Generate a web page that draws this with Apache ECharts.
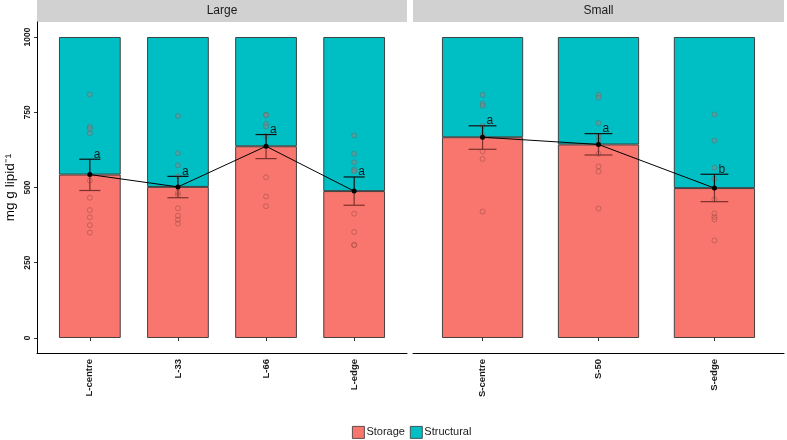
<!DOCTYPE html>
<html>
<head>
<meta charset="utf-8">
<script src="https://cdn.jsdelivr.net/npm/echarts@6/dist/echarts.min.js"></script>
<style>
  html, body { margin: 0; padding: 0; background: #fff; }
  #chart { width: 787px; height: 440px; }
</style>
</head>
<body>
<div id="chart"></div>
<script>
// categories per panel
var catsL = ['L-centre', 'L-33', 'L-66', 'L-edge'];
var catsS = ['S-centre', 'S-50', 'S-edge'];
var yTicks = [0, 250, 500, 750, 1000];

// mean storage / structural (mg g lipid-1), bars stack to 1000
var storageL = [543, 502, 637, 488];
var structuralL = [457, 498, 363, 512];
var storageS = [667, 643, 498];
var structuralS = [333, 357, 502];

// error bars (low, high) and group letters
var errLowL = [490, 466, 596, 441];
var errHighL = [594, 537, 676, 535];
var errLowS = [627, 608, 453];
var errHighS = [705, 679, 544];
var lettersL = ['a', 'a', 'a', 'a'];
var lettersS = ['a', 'a', 'b'];

// individual samples
var pointsL = [
  [809, 702, 695, 680, 523, 466, 425, 401, 375, 350],
  [738, 614, 574, 537, 483, 475, 431, 406, 393, 380],
  [742, 740, 712, 703, 671, 534, 470, 438],
  [673, 612, 584, 560, 554, 413, 352, 310, 308]
];
var pointsS = [
  [808, 779, 772, 705, 673, 620, 595, 420],
  [808, 799, 714, 670, 655, 612, 570, 553, 430],
  [743, 656, 566, 529, 460, 414, 402, 394, 324]
];

var RED = '#F8766D', TEAL = '#00BFC4';
var chart = echarts.init(document.getElementById('chart'));

// points above the storage mean sit on teal (grey fill), below on red (hollow)
function scatterData(cats, pts, means) {
  var out = [];
  cats.forEach(function (c, i) {
    pts[i].forEach(function (v) {
      var up = v > means[i];
      out.push({
        value: [c, v],
        itemStyle: up
          ? { color: 'rgba(135,135,135,0.6)', borderColor: 'rgba(95,95,95,0.6)', borderWidth: 0.8 }
          : { color: 'rgba(0,0,0,0)', borderColor: 'rgba(150,70,64,0.75)', borderWidth: 0.8 }
      });
    });
  });
  return out;
}

function errData(cats, lo, hi) {
  return cats.map(function (c, i) { return [c, lo[i], hi[i]]; });
}

function makeErrRender(means, letters) {
  return function (params, api) {
    var idx = api.value(0);
    var m = means[params.dataIndex];
    var lo = api.coord([idx, api.value(1)]);
    var hi = api.coord([idx, api.value(2)]);
    var mid = api.coord([idx, m]);
    var half = api.size([1, 0])[0] * 0.12;
    var dark = '#111', under = '#7d312c';
    return {
      type: 'group',
      children: [
        { type: 'line', shape: { x1: hi[0], y1: hi[1], x2: mid[0], y2: mid[1] }, style: { stroke: dark, lineWidth: 1.2 } },
        { type: 'line', shape: { x1: mid[0], y1: mid[1], x2: lo[0], y2: lo[1] }, style: { stroke: under, lineWidth: 1.2 } },
        { type: 'line', shape: { x1: hi[0] - half, y1: hi[1], x2: hi[0] + half, y2: hi[1] }, style: { stroke: dark, lineWidth: 1.2 } },
        { type: 'line', shape: { x1: lo[0] - half, y1: lo[1], x2: lo[0] + half, y2: lo[1] }, style: { stroke: under, lineWidth: 1.2 } },
        { type: 'text', x: hi[0] + 4, y: hi[1] + 1, style: { text: letters[params.dataIndex], fill: '#1a1a1a', font: '12px "Liberation Sans", Arial, sans-serif', align: 'left', verticalAlign: 'bottom' } }
      ]
    };
  };
}

function panelSeries(cats, storage, structural, pts, lo, hi, letters, xi, yi, stackId) {
  return [
    { name: 'Storage', type: 'bar', xAxisIndex: xi, yAxisIndex: yi, stack: stackId, barWidth: '70%',
      data: storage, itemStyle: { color: RED, borderColor: '#333', borderWidth: 0.9 }, z: 2 },
    { name: 'Structural', type: 'bar', xAxisIndex: xi, yAxisIndex: yi, stack: stackId, barWidth: '70%',
      data: structural, itemStyle: { color: TEAL, borderColor: '#333', borderWidth: 0.9 }, z: 2 },
    { type: 'scatter', xAxisIndex: xi, yAxisIndex: yi, symbol: 'circle', symbolSize: 5,
      data: scatterData(cats, pts, storage), silent: true, z: 3 },
    { type: 'line', xAxisIndex: xi, yAxisIndex: yi, data: storage, symbol: 'circle', symbolSize: 5,
      lineStyle: { color: '#000', width: 1 }, itemStyle: { color: '#000' }, z: 5 },
    { type: 'custom', xAxisIndex: xi, yAxisIndex: yi, data: errData(cats, lo, hi),
      renderItem: makeErrRender(storage, letters), z: 4 }
  ];
}

var fontFam = '"Liberation Sans", Arial, sans-serif';
var gridTop = 22, gridBottom = 87;

var catAxisLabel = { rotate: 90, fontSize: 9.5, fontWeight: 'bold', color: '#1a1a1a', margin: 6 };

var options = {
  animation: false,
  textStyle: { fontFamily: fontFam },
  grid: [
    { left: 37, right: 380, top: gridTop, bottom: gridBottom },
    { left: 45.8, right: 388.8, top: gridTop, bottom: gridBottom },
    { left: 413, right: 3, top: gridTop, bottom: gridBottom },
    { left: 424.6, right: 14.6, top: gridTop, bottom: gridBottom }
  ],
  xAxis: [
    { gridIndex: 0, type: 'value', min: 0, max: 1, axisLine: { show: true, onZero: false, lineStyle: { color: '#000', width: 1 } },
      axisTick: { show: false }, axisLabel: { show: false }, splitLine: { show: false } },
    { gridIndex: 1, type: 'category', data: catsL, axisLine: { show: false },
      axisTick: { show: true, alignWithLabel: true, length: 3, lineStyle: { color: '#333' } },
      axisLabel: catAxisLabel },
    { gridIndex: 2, type: 'value', min: 0, max: 1, axisLine: { show: true, onZero: false, lineStyle: { color: '#000', width: 1 } },
      axisTick: { show: false }, axisLabel: { show: false }, splitLine: { show: false } },
    { gridIndex: 3, type: 'category', data: catsS, axisLine: { show: false },
      axisTick: { show: true, alignWithLabel: true, length: 3, lineStyle: { color: '#333' } },
      axisLabel: catAxisLabel }
  ],
  yAxis: [
    { gridIndex: 0, type: 'value', min: -50, max: 1050,
      name: 'mg g lipid\u207B\u00B9', nameLocation: 'middle', nameGap: 20, nameRotate: 90,
      nameTextStyle: { fontSize: 13.5, color: '#000' },
      axisLine: { show: true, onZero: false, lineStyle: { color: '#000', width: 1 } },
      axisTick: { show: true, length: 3, customValues: yTicks, lineStyle: { color: '#333' } },
      axisLabel: { rotate: 90, fontSize: 8.5, fontWeight: 'bold', color: '#1a1a1a', margin: 5, customValues: yTicks,
        formatter: function (v) { return String(v); } },
      splitLine: { show: false } },
    { gridIndex: 1, type: 'value', min: -50, max: 1050, show: false },
    { gridIndex: 2, type: 'value', min: -50, max: 1050, show: false },
    { gridIndex: 3, type: 'value', min: -50, max: 1050, show: false }
  ],
  legend: {
    data: ['Storage', 'Structural'], top: 426, left: 352, icon: 'rect',
    itemWidth: 12, itemHeight: 12, itemGap: 5, padding: 0,
    itemStyle: { borderColor: '#333', borderWidth: 0.8 },
    textStyle: { fontSize: 11, color: '#1a1a1a', padding: [0, 0, 0, -3] }
  },
  graphic: [
    { type: 'rect', shape: { x: 37, y: 0, width: 370, height: 22 }, style: { fill: '#d1d1d1' }, silent: true },
    { type: 'text', x: 222, y: 11, style: { text: 'Large', fill: '#1a1a1a', font: '12px ' + fontFam, align: 'center', verticalAlign: 'middle' } },
    { type: 'rect', shape: { x: 413, y: 0, width: 371, height: 22 }, style: { fill: '#d1d1d1' }, silent: true },
    { type: 'text', x: 598.5, y: 11, style: { text: 'Small', fill: '#1a1a1a', font: '12px ' + fontFam, align: 'center', verticalAlign: 'middle' } }
  ],
  series: [].concat(
    panelSeries(catsL, storageL, structuralL, pointsL, errLowL, errHighL, lettersL, 1, 1, 'L'),
    panelSeries(catsS, storageS, structuralS, pointsS, errLowS, errHighS, lettersS, 3, 3, 'S')
  )
};
chart.setOption(options);
</script>
</body>
</html>
